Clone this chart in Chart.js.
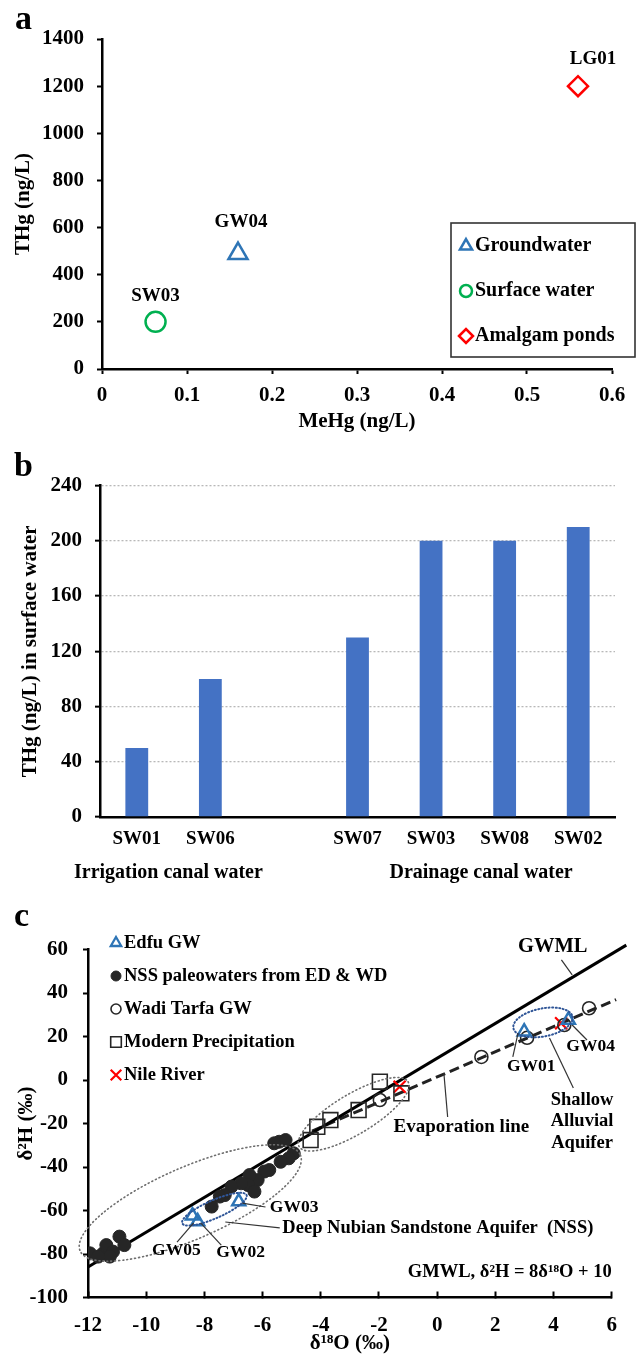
<!DOCTYPE html>
<html><head><meta charset="utf-8">
<script src="https://cdn.jsdelivr.net/npm/chart.js@4.4.0/dist/chart.umd.min.js"></script>
<style>
html,body{margin:0;padding:0;background:#fff;}
body{width:638px;height:1356px;position:relative;overflow:hidden;}
canvas{position:absolute;left:0;}
#ca{top:0;width:638px;height:460px;}
#cb{top:460px;width:638px;height:440px;}
#cc{top:900px;width:638px;height:456px;}
.pl{position:absolute;font-family:'Liberation Serif','Times New Roman',serif;font-weight:bold;font-size:34px;line-height:34px;color:#000;z-index:2;}
</style></head><body>
<canvas id="ca" width="638" height="460"></canvas>
<canvas id="cb" width="638" height="440"></canvas>
<canvas id="cc" width="638" height="456"></canvas>
<div class="pl" style="left:15px;top:1px;">a</div>
<div class="pl" style="left:14px;top:448px;">b</div>
<div class="pl" style="left:14px;top:898px;">c</div>
<script>
// ================= DATA =================
// Panel a : MeHg vs THg
const A_SERIES = ['Groundwater', 'Surface water', 'Amalgam ponds'];
const A_SITES  = ['GW04', 'SW03', 'LG01'];
const A_MEHG   = [0.16, 0.063, 0.56];
const A_THG    = [490, 200, 1200];

// Panel b : THg in surface water
const B_SITES  = ['SW01', 'SW06', '', 'SW07', 'SW03', 'SW08', 'SW02'];
const B_THG    = [50, 100, null, 130, 200, 200, 210];
const B_GROUPS = ['Irrigation canal water', 'Drainage canal water'];

// Panel c : stable isotopes
const C_SERIES = ['Edfu GW', 'NSS paleowaters from ED & WD', 'Wadi Tarfa GW', 'Modern Precipitation', 'Nile River'];
const EDFU_ID  = ['GW01', 'GW04', 'GW03', 'GW05', 'GW02'];
const EDFU_O   = [2.99, 4.51, -6.82, -8.41, -8.23];
const EDFU_H   = [22.2, 27.6, -55.9, -62.4, -65.1];
const NSS_O    = [-5.43, -5.21, -5.6, -4.93, -5.1, -5.38, -5.77, -5.94, -6.17, -6.45, -6.5, -6.74, -7.07, -7.3, -7.47, -6.28, -7.75,
                  -11.93, -11.48, -11.37, -10.92, -10.75, -11.14, -11.25, -11.65];
const NSS_H    = [-28.4, -27.6, -29.1, -33.7, -36, -37.6, -41.4, -42.1, -46, -43.7, -48.3, -47.5, -49, -52.9, -53.6, -51.3, -58.2,
                  -79.7, -79.7, -75.9, -72, -75.9, -78.9, -81.2, -81.2];
const TARFA_O  = [1.52, 3.09, 4.37, 5.22, -1.97];
const TARFA_H  = [10.6, 19.4, 25.3, 33, -9.2];
const PRECIP_O = [-4.35, -4.12, -3.67, -2.70, -1.97, -1.23];
const PRECIP_H = [-27.6, -21.5, -18.4, -13.8, -0.8, -6.1];
const NILE_O   = [-1.29, 4.26];
const NILE_H   = [-3.1, 26.1];
const GMWL_O   = [-12, 6.5];
const GMWL_H   = [-86, 62];
const EVAP_O   = [-4.3, 6.15];
const EVAP_H   = [-23.5, 37];

// ================= SETUP =================
const FONT = "'Liberation Serif','Times New Roman',Times,serif";
Chart.defaults.font.family = FONT;
Chart.defaults.font.weight = 'bold';
Chart.defaults.color = '#000';
Chart.defaults.animation = false;
Chart.defaults.events = [];
Chart.defaults.plugins.legend.display = false;
Chart.defaults.plugins.tooltip.enabled = false;

const plain = v => String(v);
const pts = (xs, ys) => xs.map((x, i) => ({x: x, y: ys[i]}));
const P = (chart, x, y) => [chart.scales.x.getPixelForValue(x), chart.scales.y.getPixelForValue(y)];

// generic annotation plugin (ellipses, leader lines, texts in data coordinates)
const annotPlugin = {
  id: 'annot',
  afterDatasetsDraw(chart, args, o) {
    const ctx = chart.ctx;
    ctx.save();
    (o.ellipses || []).forEach(e => {
      const [x1, y1] = P(chart, e.from[0], e.from[1]);
      const [x2, y2] = P(chart, e.to[0], e.to[1]);
      const cx = (x1 + x2) / 2, cy = (y1 + y2) / 2;
      const a = Math.hypot(x2 - x1, y2 - y1) / 2, ang = Math.atan2(y2 - y1, x2 - x1);
      ctx.beginPath();
      ctx.setLineDash(e.dash); ctx.lineCap = 'round';
      ctx.strokeStyle = e.color; ctx.lineWidth = e.width;
      ctx.ellipse(cx, cy, a, e.minor, ang, 0, Math.PI * 2);
      ctx.stroke();
    });
    ctx.setLineDash([]); ctx.lineCap = 'butt';
    (o.leaders || []).forEach(l => {
      const [x1, y1] = P(chart, l[0], l[1]);
      const [x2, y2] = P(chart, l[2], l[3]);
      ctx.beginPath(); ctx.strokeStyle = '#333'; ctx.lineWidth = 1.2;
      ctx.moveTo(x1, y1); ctx.lineTo(x2, y2); ctx.stroke();
    });
    (o.texts || []).forEach(t => {
      ctx.font = 'bold ' + t.size + 'px ' + FONT;
      ctx.fillStyle = '#000'; ctx.textAlign = t.align; ctx.textBaseline = 'middle';
      const [x, y] = P(chart, t.at[0], t.at[1]);
      t.text.split('\n').forEach((s, k) => ctx.fillText(s, x, y + k * (t.lh || 0)));
    });
    ctx.restore();
  }
};

// symbol legend plugin (pixel placement)
const symLegendPlugin = {
  id: 'symLegend',
  afterDraw(chart, args, o) {
    if (!o.items) return;
    const ctx = chart.ctx;
    ctx.save();
    if (o.box) { ctx.strokeStyle = '#333'; ctx.lineWidth = 1.6; ctx.strokeRect(o.box[0], o.box[1], o.box[2], o.box[3]); }
    o.items.forEach((it, i) => {
      const ds = chart.data.datasets[it];
      const y = o.y0 + i * o.dy;
      ctx.strokeStyle = ds.pointBorderColor; ctx.fillStyle = ds.pointBackgroundColor;
      ctx.lineWidth = o.bw[i];
      Chart.helpers.drawPoint(ctx, {pointStyle: ds.pointStyle, rotation: 0, radius: o.r[i], borderWidth: o.bw[i]}, o.sx, y);
      ctx.font = 'bold ' + o.size + 'px ' + FONT;
      ctx.fillStyle = '#000'; ctx.textAlign = 'left'; ctx.textBaseline = 'middle';
      ctx.fillText(ds.label, o.tx, y);
    });
    ctx.restore();
  }
};

// point labels for panel a
const pointLabelPlugin = {
  id: 'pointLabels',
  afterDatasetsDraw(chart, args, o) {
    if (!o.labels) return;
    const ctx = chart.ctx;
    ctx.save();
    ctx.font = 'bold ' + o.size + 'px ' + FONT;
    ctx.fillStyle = '#000'; ctx.textAlign = 'center'; ctx.textBaseline = 'middle';
    chart.data.datasets.forEach((ds, i) => {
      const el = chart.getDatasetMeta(i).data[0];
      ctx.fillText(o.labels[i], el.x + o.dx[i], el.y + o.dy[i]);
    });
    ctx.restore();
  }
};

// group labels for panel b
const groupPlugin = {
  id: 'groups',
  afterDraw(chart, args, o) {
    if (!o.labels) return;
    const ctx = chart.ctx;
    ctx.save();
    ctx.font = 'bold ' + o.size + 'px ' + FONT;
    ctx.fillStyle = '#000'; ctx.textAlign = 'center'; ctx.textBaseline = 'middle';
    o.labels.forEach((t, i) => ctx.fillText(t, chart.scales.x.getPixelForValue(o.at[i]), o.y));
    ctx.restore();
  }
};

// ================= PANEL A =================
const A_STYLE = [
  {shape: 'triangle', r: 11, c: '#2e75b6'},
  {shape: 'circle',   r: 10, c: '#00b050'},
  {shape: 'rectRot',  r: 10, c: '#ff0000'}
];
new Chart(document.getElementById('ca'), {
  type: 'scatter',
  data: {
    datasets: A_SERIES.map((name, i) => ({
      label: name,
      data: [{x: A_MEHG[i], y: A_THG[i]}],
      pointStyle: A_STYLE[i].shape,
      pointRadius: A_STYLE[i].r,
      pointBorderColor: A_STYLE[i].c,
      pointBackgroundColor: 'rgba(0,0,0,0)',
      borderColor: A_STYLE[i].c,
      backgroundColor: 'rgba(0,0,0,0)',
      pointBorderWidth: 2.5
    }))
  },
  options: {
    responsive: false,
    layout: {padding: {left: 0, top: 39, right: 26, bottom: 0}},
    scales: {
      x: {
        type: 'linear', min: 0, max: 0.6,
        ticks: {stepSize: 0.1, font: {size: 21, weight: 'bold'}, color: '#000', padding: 9},
        grid: {display: true, drawOnChartArea: false, tickLength: 5, tickColor: '#000', tickWidth: 2},
        border: {display: true, color: '#000', width: 2.5},
        title: {display: true, text: 'MeHg (ng/L)', font: {size: 21, weight: 'bold'}, color: '#000', padding: {top: 0, bottom: 26}},
        afterFit(s) { s.height = 91; }
      },
      y: {
        type: 'linear', min: 0, max: 1400,
        ticks: {stepSize: 200, font: {size: 21, weight: 'bold'}, color: '#000', padding: 13, callback: plain},
        grid: {display: true, drawOnChartArea: false, tickLength: 5, tickColor: '#000', tickWidth: 2},
        border: {display: true, color: '#000', width: 2.5},
        title: {display: true, text: 'THg (ng/L)', font: {size: 21, weight: 'bold'}, color: '#000', padding: {top: 11, bottom: 0}},
        afterFit(s) { s.width = 102; }
      }
    },
    plugins: {
      pointLabels: {labels: A_SITES, size: 19, dx: [3, 0, 15], dy: [-31, -26, -27]},
      symLegend: {items: [0, 1, 2], box: [451, 223, 184, 134], y0: 246, dy: 45, sx: 466, tx: 475, size: 20, r: [7, 6, 7], bw: [2.5, 2.5, 2.5]}
    }
  },
  plugins: [pointLabelPlugin, symLegendPlugin]
});

// ================= PANEL B =================
new Chart(document.getElementById('cb'), {
  type: 'bar',
  data: {
    labels: B_SITES,
    datasets: [{data: B_THG, backgroundColor: '#4472c4', borderWidth: 0, barPercentage: 0.31, categoryPercentage: 1}]
  },
  options: {
    responsive: false,
    layout: {padding: {left: 0, top: 21, right: 23, bottom: 0}},
    scales: {
      x: {
        ticks: {font: {size: 19, weight: 'bold'}, color: '#000', padding: 11},
        grid: {display: false, drawTicks: false},
        border: {display: true, color: '#000', width: 2.5},
        afterFit(s) { s.height = 83; }
      },
      y: {
        min: 0, max: 240,
        ticks: {stepSize: 40, font: {size: 21, weight: 'bold'}, color: '#000', padding: 13, callback: plain},
        grid: {display: true, drawOnChartArea: true, color: '#b8b8b8', lineWidth: 1.3, tickLength: 5, tickColor: '#000', tickWidth: 2},
        border: {display: true, color: '#000', width: 2.5, dash: [2, 2]},
        title: {display: true, text: 'THg (ng/L) in surface water', font: {size: 21, weight: 'bold'}, color: '#000', padding: {top: 18, bottom: 0}},
        afterFit(s) { s.width = 100; }
      }
    },
    plugins: {
      groups: {labels: B_GROUPS, at: [0.43, 4.68], y: 413, size: 20}
    }
  },
  plugins: [groupPlugin]
});

// ================= PANEL C =================
const C_STYLE = [
  {shape: 'triangle', r: 7.5, c: '#2e75b6', fill: 'rgba(0,0,0,0)', bw: 2.5},
  {shape: 'circle',   r: 6.5, c: '#262626', fill: '#262626', bw: 1},
  {shape: 'circle',   r: 6.5, c: '#262626', fill: 'rgba(0,0,0,0)', bw: 1.6},
  {shape: 'rect',     r: 10.5, c: '#262626', fill: 'rgba(0,0,0,0)', bw: 1.6},
  {shape: 'crossRot', r: 8.5, c: '#ff0000', fill: 'rgba(0,0,0,0)', bw: 2.2}
];
const C_DATA = [pts(EDFU_O, EDFU_H), pts(NSS_O, NSS_H), pts(TARFA_O, TARFA_H), pts(PRECIP_O, PRECIP_H), pts(NILE_O, NILE_H)];
const cDatasets = C_SERIES.map((name, i) => ({
  label: name, data: C_DATA[i], showLine: false,
  pointStyle: C_STYLE[i].shape, pointRadius: C_STYLE[i].r,
  pointBorderColor: C_STYLE[i].c, pointBackgroundColor: C_STYLE[i].fill,
  borderColor: C_STYLE[i].c, backgroundColor: C_STYLE[i].fill,
  pointBorderWidth: C_STYLE[i].bw
}));
cDatasets.push({label: 'GMWL', data: pts(GMWL_O, GMWL_H), showLine: true, pointRadius: 0, borderColor: '#000', borderWidth: 3, clip: false});
cDatasets.push({label: 'Evaporation line', data: pts(EVAP_O, EVAP_H), showLine: true, pointRadius: 0, borderColor: '#222', borderWidth: 3, borderDash: [10, 5], clip: false});

new Chart(document.getElementById('cc'), {
  type: 'scatter',
  data: {datasets: cDatasets},
  options: {
    responsive: false,
    layout: {padding: {left: 0, top: 49.5, right: 20, bottom: 0}},
    scales: {
      x: {
        type: 'linear', min: -12, max: 6,
        ticks: {stepSize: 2, font: {size: 21, weight: 'bold'}, color: '#000', padding: 21, callback: plain},
        grid: {display: true, drawOnChartArea: false, tickLength: -6, tickColor: '#000', tickWidth: 2},
        border: {display: true, color: '#000', width: 2.5},
        title: {display: true, text: 'δ¹⁸O (‰)', font: {size: 21, weight: 'bold'}, color: '#000', padding: {top: 0, bottom: 0}},
        afterFit(s) { s.height = 58.5; }
      },
      y: {
        type: 'linear', min: -100, max: 60,
        ticks: {stepSize: 20, font: {size: 21, weight: 'bold'}, color: '#000', padding: 15, callback: plain},
        grid: {display: true, drawOnChartArea: false, tickLength: 5, tickColor: '#000', tickWidth: 2},
        border: {display: true, color: '#000', width: 2.5},
        title: {display: true, text: 'δ²H (‰)', font: {size: 21, weight: 'bold'}, color: '#000', padding: {top: 14, bottom: 0}},
        afterFit(s) { s.width = 88; }
      }
    },
    plugins: {
      symLegend: {items: [0, 1, 2, 3, 4], y0: 43, dy: 33, sx: 116, tx: 124, size: 18.5, r: [6, 5, 5, 7.5, 7.5], bw: [2.3, 1, 1.6, 1.6, 2.2]},
      annot: {
        ellipses: [
          {from: [-12.27, -78.6], to: [-4.70, -34.5], minor: 36, color: '#6e6e6e', dash: [1, 3], width: 1.6},
          {from: [-4.74, -30.7], to: [-1.0, -0.8], minor: 20, color: '#6e6e6e', dash: [1, 3], width: 1.6},
          {from: [-8.76, -65.9], to: [-6.55, -52.9], minor: 9, color: '#2f5597', dash: [1, 2.5], width: 2},
          {from: [2.62, 23.8], to: [4.65, 29.1], minor: 14, color: '#2f5597', dash: [1, 2.5], width: 2}
        ],
        leaders: [
          [4.27, 55.2, 4.64, 48.3],
          [0.23, 3.2, 0.36, -17],
          [3.86, 19.3, 4.68, -3.7],
          [4.64, 25.3, 5.15, 18.4],
          [2.78, 21.6, 2.6, 10.6],
          [-6.7, -56.6, -5.9, -58.4],
          [-7.28, -65.3, -5.41, -68],
          [-8.37, -65.7, -8.94, -74.5],
          [-8.13, -65.7, -7.42, -75.9]
        ],
        texts: [
          {text: 'GWML', at: [2.78, 61.1], size: 20.5, align: 'left'},
          {text: 'Evaporation line', at: [-1.5, -21.6], size: 19, align: 'left'},
          {text: 'Shallow\nAlluvial\nAquifer', at: [4.98, -9.2], size: 18.5, align: 'center', lh: 21.5},
          {text: 'GW04', at: [4.44, 15.2], size: 17.5, align: 'left'},
          {text: 'GW01', at: [2.40, 6], size: 17.5, align: 'left'},
          {text: 'GW03', at: [-5.75, -58.4], size: 17.5, align: 'left'},
          {text: 'Deep Nubian Sandstone Aquifer  (NSS)', at: [-5.32, -68], size: 18.5, align: 'left'},
          {text: 'GW05', at: [-9.8, -78.2], size: 17.5, align: 'left'},
          {text: 'GW02', at: [-7.59, -79.5], size: 17.5, align: 'left'},
          {text: 'GMWL, δ²H = 8δ¹⁸O + 10', at: [6, -88.3], size: 18.5, align: 'right'}
        ]
      }
    }
  },
  plugins: [annotPlugin, symLegendPlugin]
});
</script>
</body></html>
